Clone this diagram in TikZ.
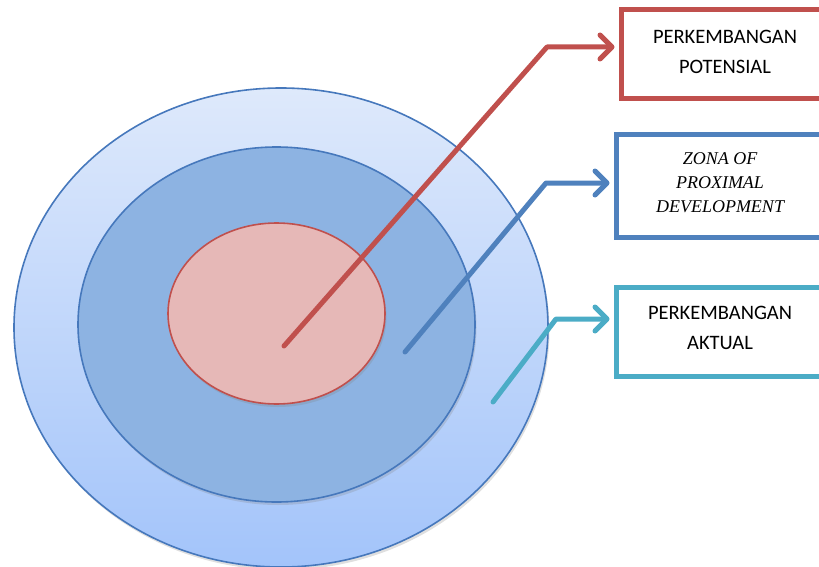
\documentclass[tikz,border=0pt]{standalone}
\usepackage{fontspec}
\setmainfont{Carlito}
\newfontfamily\tnr{Liberation Serif}
\usetikzlibrary{arrows.meta,shadows,shapes.geometric}
\definecolor{ringline}{RGB}{70,120,188}
\definecolor{outertop}{RGB}{222,233,251}
\definecolor{outerbot}{RGB}{163,196,250}
\definecolor{midfill}{RGB}{141,179,226}
\definecolor{innerfill}{RGB}{230,184,183}
\definecolor{redc}{RGB}{192,80,77}
\definecolor{bluec}{RGB}{79,129,189}
\definecolor{cyanc}{RGB}{75,172,198}
\begin{document}
\begin{tikzpicture}[x=1pt,y=-1pt,
  ring/.style={ellipse, inner sep=0pt, line width=1.6pt,
    drop shadow={shadow xshift=1.5pt, shadow yshift=-3pt, opacity=0.25}},
  labelbox/.style={rectangle, line width=5pt, fill=white, minimum width=208pt,
    inner sep=0pt},
  txt/.style={align=center, font=\fontsize{20.5}{30}\selectfont},
  itxt/.style={align=center, font=\tnr\itshape\fontsize{18}{24}\selectfont},
  conn/.style={line width=5pt, line join=round, line cap=round,
    -{Straight Barb[length=12pt, width=24pt, line cap=round, line join=round]},
    shorten >=4pt}]
\useasboundingbox (0,0) rectangle (819,567);
\clip (0,0) rectangle (819,567);
% rings
\node[ring, draw=ringline, top color=outertop, bottom color=outerbot,
  minimum width=534pt, minimum height=479pt] (outer) at (281,327.5) {};
\node[ring, draw=ringline, fill=midfill,
  minimum width=397pt, minimum height=355pt] (mid) at (276.5,324.5) {};
\node[ring, draw=redc, fill=innerfill,
  minimum width=217pt, minimum height=181pt] (inner) at (276.5,313.5) {};
% boxes
\node[labelbox, draw=redc, minimum height=89pt] (pot) at (725,54.5) {};
\node[txt] (pottxt) at (725,51.5) {PERKEMBANGAN\\POTENSIAL};
\node[labelbox, draw=bluec, minimum height=102pt] (zpd) at (720,186) {};
\node[itxt] (zpdtxt) at (720,183) {ZONA OF\\PROXIMAL\\DEVELOPMENT};
\node[labelbox, draw=cyanc, minimum height=89pt] (akt) at (720,331.5) {};
\node[txt] (akttxt) at (720,327.5) {PERKEMBANGAN\\AKTUAL};
% connectors
\coordinate (rs) at (284,346);
\coordinate (rb) at (547,47);
\coordinate (bs) at (405,352);
\coordinate (bb) at (546,183);
\coordinate (cs) at (493,402);
\coordinate (cb) at (556,319);
\draw[conn, draw=redc] (rs) -- (rb) -- (rb -| pot.west);
\draw[conn, draw=bluec] (bs) -- (bb) -- (bb -| zpd.west);
\draw[conn, draw=cyanc] (cs) -- (cb) -- (cb -| akt.west);
\end{tikzpicture}
\end{document}
